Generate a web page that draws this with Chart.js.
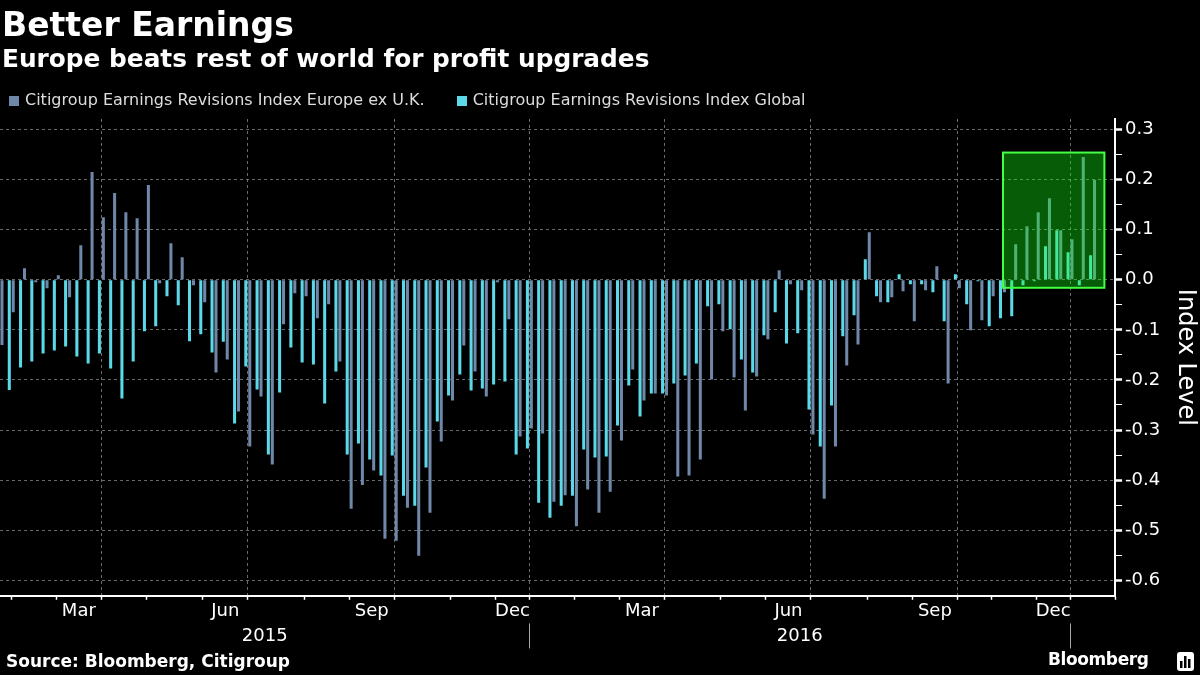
<!DOCTYPE html>
<html>
<head>
<meta charset="utf-8">
<title>Better Earnings</title>
<script src="https://cdn.jsdelivr.net/npm/chart.js@4.4.1/dist/chart.umd.min.js"></script>
<style>
  html, body { margin:0; padding:0; background:#000; }
  #wrap { position:relative; width:1200px; height:675px; overflow:hidden; font-family:"DejaVu Sans", sans-serif; color:#fff; }
  #chart { position:absolute; left:0; top:0; }
  .t { position:absolute; white-space:nowrap; }
  #title { left:2px; top:8px; font-size:33px; line-height:33px; font-weight:bold; }
  #sub { left:2px; top:46px; font-size:24.8px; line-height:25px; font-weight:bold; }
  #legend { left:9px; top:92px; font-size:16px; line-height:16px; color:#ddd; }
  #legend span.item { display:inline-block; margin-right:32px; }
  #legend i { display:inline-block; width:10px; height:10px; margin-right:6px; vertical-align:-1px; }
  #src { left:6px; top:653px; font-size:17px; line-height:16px; font-weight:bold; }
  #logo { left:1048px; top:651px; font-size:17px; line-height:17px; font-weight:bold; letter-spacing:-0.4px; }
  #icon { position:absolute; left:1177px; top:652px; }
</style>
</head>
<body>
<div id="wrap">
  <canvas id="chart" width="1200" height="675"></canvas>
  <div id="title" class="t">Better Earnings</div>
  <div id="sub" class="t">Europe beats rest of world for profit upgrades</div>
  <div id="legend" class="t"></div>
  <div id="src" class="t">Source: Bloomberg, Citigroup</div>
  <div id="logo" class="t">Bloomberg</div>
  <svg id="icon" width="17" height="19" viewBox="0 0 17 19">
    <rect x="0" y="0" width="17" height="19" rx="3" fill="#fff"/>
    <rect x="3" y="9" width="2.5" height="7" fill="#000"/>
    <rect x="7" y="4" width="2.5" height="12" fill="#000"/>
    <rect x="11" y="7" width="2.5" height="9" fill="#000"/>
  </svg>
</div>
<script>
// weekly observations (Fridays), Jan 2015 - Feb 2017
const weeks = [
  "2015-01-30","2015-02-06","2015-02-13","2015-02-20","2015-02-27",
  "2015-03-06","2015-03-13","2015-03-20","2015-03-27",
  "2015-04-03","2015-04-10","2015-04-17","2015-04-24",
  "2015-05-01","2015-05-08","2015-05-15","2015-05-22","2015-05-29",
  "2015-06-05","2015-06-12","2015-06-19","2015-06-26",
  "2015-07-03","2015-07-10","2015-07-17","2015-07-24","2015-07-31",
  "2015-08-07","2015-08-14","2015-08-21","2015-08-28",
  "2015-09-04","2015-09-11","2015-09-18","2015-09-25",
  "2015-10-02","2015-10-09","2015-10-16","2015-10-23","2015-10-30",
  "2015-11-06","2015-11-13","2015-11-20","2015-11-27",
  "2015-12-04","2015-12-11","2015-12-18",
  "2016-01-08","2016-01-15","2016-01-22","2016-01-29",
  "2016-02-05","2016-02-12","2016-02-19","2016-02-26",
  "2016-03-04","2016-03-11","2016-03-18","2016-03-25",
  "2016-04-01","2016-04-08","2016-04-15","2016-04-22","2016-04-29",
  "2016-05-06","2016-05-13","2016-05-20","2016-05-27",
  "2016-06-03","2016-06-10","2016-06-17","2016-06-24",
  "2016-07-01","2016-07-08","2016-07-15","2016-07-22","2016-07-29",
  "2016-08-05","2016-08-12","2016-08-19","2016-08-26",
  "2016-09-02","2016-09-09","2016-09-16","2016-09-23",
  "2016-10-07","2016-10-14","2016-10-21",
  "2016-11-04","2016-11-11","2016-11-18","2016-11-25",
  "2016-12-02","2016-12-09","2016-12-16",
  "2017-01-06","2017-01-13","2017-01-20","2017-01-27",
  "2017-02-03"
];

// Citigroup Earnings Revisions Index Europe ex U.K.
const europe = [
  -0.130,-0.065, 0.023,-0.005,-0.017,
   0.009,-0.035, 0.069, 0.215,
   0.125, 0.173, 0.135, 0.123,
   0.189,-0.007, 0.073, 0.045,-0.011,
  -0.045,-0.185,-0.159,-0.263,
  -0.333,-0.233,-0.369,-0.089,-0.027,
  -0.033,-0.077,-0.049,-0.163,
  -0.457,-0.410,-0.381,-0.517,
  -0.521,-0.455,-0.551,-0.465,-0.323,
  -0.241,-0.131,-0.183,-0.233,
  -0.005,-0.079,-0.313,
  -0.297,-0.307,-0.443,-0.430,
  -0.492,-0.419,-0.465,-0.423,
  -0.321,-0.179,-0.241,-0.227,
  -0.231,-0.393,-0.391,-0.359,-0.199,
  -0.103,-0.195,-0.261,-0.193,
  -0.119, 0.019,-0.009,-0.021,
  -0.309,-0.437,-0.333,-0.171,-0.129,
   0.095,-0.045,-0.035,-0.023,
  -0.083,-0.021, 0.027,-0.207,
  -0.017,-0.101,-0.081,
  -0.033,-0.025, 0.071, 0.107,
   0.135, 0.163, 0.099,
   0.081, 0.245, 0.199, null,
   null
];

// Citigroup Earnings Revisions Index Global
const global = [
  -0.150,-0.220,-0.175,-0.163,-0.147,
  -0.141,-0.133,-0.153,-0.167,
  -0.147,-0.177,-0.237,-0.163,
  -0.103,-0.093,-0.033,-0.051,-0.123,
  -0.109,-0.145,-0.124,-0.287,
  -0.173,-0.219,-0.349,-0.225,-0.135,
  -0.165,-0.169,-0.247,-0.183,
  -0.349,-0.327,-0.359,-0.391,
  -0.351,-0.431,-0.451,-0.375,-0.283,
  -0.231,-0.189,-0.221,-0.217,
  -0.209,-0.203,-0.349,
  -0.337,-0.445,-0.475,-0.451,
  -0.431,-0.339,-0.355,-0.353,
  -0.291,-0.211,-0.273,-0.227,
  -0.227,-0.207,-0.191,-0.167,-0.053,
  -0.049,-0.099,-0.159,-0.185,
  -0.111,-0.065,-0.127,-0.107,
  -0.259,-0.333,-0.251,-0.113,-0.071,
   0.041,-0.033,-0.045, 0.011,
  -0.009,-0.009,-0.025,-0.083,
   0.011,-0.049,-0.003,
  -0.093,-0.077,-0.073,-0.011,
  -0.003, 0.067, 0.099,
   0.055,-0.011, 0.049, null,
   null
];

const seriesNames = ["Citigroup Earnings Revisions Index Global", "Citigroup Earnings Revisions Index Europe ex U.K."];
const seriesColors = ["#5cd9e8", "#6f87a9"];
const shownMonths = ["Mar", "Jun", "Sep", "Dec"];
const MONTHS = ["Jan","Feb","Mar","Apr","May","Jun","Jul","Aug","Sep","Oct","Nov","Dec"];
// highlighted box (week-index range, value range)
const boxWeeks = [89.05, 98.05];
const boxValues = [-0.016, 0.254];

const FONT = '"DejaVu Sans", sans-serif';
const GRID = "rgba(125,125,125,0.85)";

// month / quarter / year positions from the week list
const monthNo = d => +d.slice(5, 7);
const monthStarts = [];
weeks.forEach((d, i) => { if (i > 0 && d.slice(0, 7) !== weeks[i - 1].slice(0, 7)) monthStarts.push(i); });
const quarterStarts = monthStarts.filter(i => [1, 4, 7, 10].includes(monthNo(weeks[i])));
const yearStarts = monthStarts.filter(i => monthNo(weeks[i]) === 1);

const monthMarks = [];
monthStarts.forEach((s, k) => {
  const next = monthStarts[k + 1];
  if (next == null) return;
  const name = MONTHS[monthNo(weeks[s]) - 1];
  if (shownMonths.includes(name)) monthMarks.push({ value: (s + next) / 2, name });
});

const yearMarks = [];
const yb = [0, ...yearStarts];
yb.forEach((s, k) => {
  if (yb[k + 1] != null) yearMarks.push({ value: (s + yb[k + 1]) / 2, name: weeks[s].slice(0, 4) });
});

const isMajor = v => Math.abs(Math.round(v * 10) - v * 10) < 1e-6;

const extras = {
  id: "extras",
  afterDatasetsDraw(chart) {
    const xs = chart.scales.xm, ys = chart.scales.y, ctx = chart.ctx;
    const x0 = xs.getPixelForValue(boxWeeks[0]), x1 = xs.getPixelForValue(boxWeeks[1]);
    const y0 = ys.getPixelForValue(boxValues[1]), y1 = ys.getPixelForValue(boxValues[0]);
    ctx.save();
    ctx.fillStyle = "rgba(20,255,20,0.36)";
    ctx.fillRect(x0, y0, x1 - x0, y1 - y0);
    ctx.strokeStyle = "#44ff44";
    ctx.lineWidth = 2;
    ctx.strokeRect(x0, y0, x1 - x0, y1 - y0);
    ctx.restore();
  },
  afterDraw(chart) {
    // year separators in the year row
    const xs = chart.scales.xy, ctx = chart.ctx;
    ctx.save();
    ctx.strokeStyle = "#aaa";
    ctx.lineWidth = 1;
    yearStarts.forEach(i => {
      const x = Math.round(xs.getPixelForValue(i)) + 0.5;
      ctx.beginPath();
      ctx.moveTo(x, xs.top);
      ctx.lineTo(x, xs.top + 25);
      ctx.stroke();
    });
    ctx.restore();
  }
};

const chart = new Chart(document.getElementById("chart").getContext("2d"), {
  type: "bar",
  data: {
    labels: weeks,
    datasets: [
      { label: seriesNames[0], data: global, backgroundColor: seriesColors[0], borderWidth: 0 },
      { label: seriesNames[1], data: europe, backgroundColor: seriesColors[1], borderWidth: 0 }
    ]
  },
  options: {
    responsive: false,
    animation: false,
    categoryPercentage: 0.7,
    barPercentage: 0.77,
    layout: { padding: { top: 119, right: 0, bottom: 26, left: 0 } },
    plugins: { legend: { display: false }, tooltip: { enabled: false } },
    scales: {
      x: {
        type: "category", position: "bottom", offset: false, weight: 0,
        ticks: { display: false },
        grid: {
          offset: false,
          color: c => quarterStarts.includes(c.index) ? GRID : "transparent",
          tickColor: c => monthStarts.includes(c.index) ? "#fff" : "transparent",
          tickLength: 4, tickWidth: 1.5, lineWidth: 1
        },
        border: { color: "#fff", width: 2, dash: [3, 3] }
      },
      xm: {
        type: "linear", position: "bottom", min: 0, max: weeks.length - 1, weight: 1,
        offset: false,
        afterBuildTicks: s => { s.ticks = monthMarks.map(m => ({ value: m.value, name: m.name })); },
        ticks: {
          autoSkip: false, maxRotation: 0, padding: 1, color: "#fff",
          font: { family: FONT, size: 18 },
          callback: (v, i, t) => t[i].name
        },
        grid: { display: false, drawTicks: false, offset: false },
        border: { display: false }
      },
      xy: {
        type: "linear", position: "bottom", min: 0, max: weeks.length - 1, weight: 2,
        offset: false,
        afterBuildTicks: s => { s.ticks = yearMarks.map(m => ({ value: m.value, name: m.name })); },
        ticks: {
          autoSkip: false, maxRotation: 0, padding: 2, color: "#fff",
          font: { family: FONT, size: 18 },
          callback: (v, i, t) => t[i].name
        },
        grid: { display: false, drawTicks: false, offset: false },
        border: { display: false }
      },
      y: {
        position: "right", min: -0.631, max: 0.321,
        ticks: {
          stepSize: 0.05, includeBounds: false, autoSkip: false, padding: 3, color: "#fff",
          font: { family: FONT, size: 18 },
          callback: v => isMajor(v) ? (Math.round(v * 10) / 10).toFixed(1) : ""
        },
        grid: {
          color: c => (c.tick && isMajor(c.tick.value)) ? GRID : "transparent",
          tickColor: "#fff",
          tickWidth: c => (c.tick && isMajor(c.tick.value)) ? 2.5 : 1,
          tickLength: 7, lineWidth: 1
        },
        border: { color: "#fff", width: 2, dash: [3, 3] },
        title: {
          display: true, text: "Index Level", color: "#fff",
          font: { family: FONT, size: 24 },
          padding: { top: 0, bottom: 8 }
        }
      }
    }
  },
  plugins: [extras]
});

// legend, Europe first as in the original
const leg = document.getElementById("legend");
chart.data.datasets.slice().reverse().forEach(ds => {
  const item = document.createElement("span");
  item.className = "item";
  item.innerHTML = `<i style="background:${ds.backgroundColor}"></i>${ds.label}`;
  leg.appendChild(item);
});
</script>
</body>
</html>
